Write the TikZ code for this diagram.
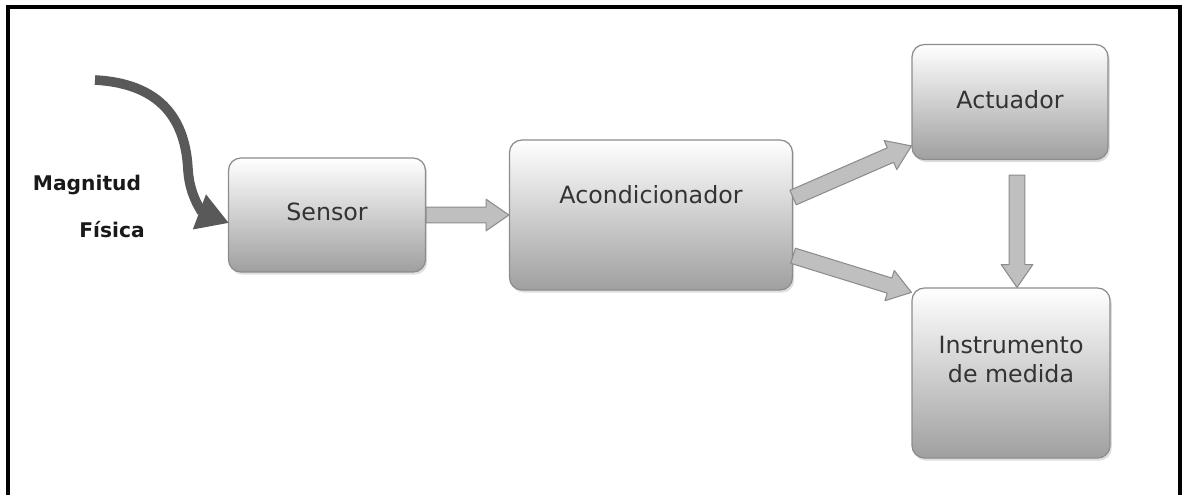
\documentclass[tikz,border=0pt]{standalone}
\usepackage{fontspec}
\setmainfont{DejaVu Sans}
\usepackage{tikz}
\usetikzlibrary{arrows.meta,calc,shadows}

\tikzset{
  bloque/.style={draw=gray!90,line width=.7pt,rounded corners=7pt,
    top color=white,bottom color=gray!75,
    drop shadow={opacity=.25,shadow xshift=1pt,shadow yshift=-1.5pt}},
  texto/.style={text=black!80,font=\fontsize{13.5}{16.5}\selectfont,align=center},
  rotulo/.style={text=black!90,font=\bfseries\fontsize{11.5}{13}\selectfont},
  flecha/.style={draw=gray!90,line width=.6pt,fill=gray!50,line join=round},
  curva/.style={draw=black!65,line width=5.5pt,-{Triangle[length=18pt,width=20pt]}}
}
%% flecha gruesa entre dos puntos
\newcommand{\flecha}[2]{%
  \coordinate (h) at ($(#2)!13pt!(#1)$);
  \draw[flecha] ($(#1)!4.5pt!90:(#2)$) -- ($(h)!4.5pt!90:(#2)$) -- ($(h)!9pt!90:(#2)$)
    -- (#2) -- ($(h)!9pt!-90:(#2)$) -- ($(h)!4.5pt!-90:(#2)$) -- ($(#1)!4.5pt!-90:(#2)$) -- cycle;}

\begin{document}
\begin{tikzpicture}[x=.02cm,y=-.02cm]
      \useasboundingbox (0,0) rectangle (1186,495);
      \draw[line width=1.8pt] (8,495) -- (8,7) -- (1180,7) -- (1180,495);
      %% bloques
      \node[bloque,minimum width=3.94cm,minimum height=2.28cm] (sensor) at (327,215) {};
      \node[bloque,minimum width=5.66cm,minimum height=3cm] (acond) at (651,215) {};
      \node[bloque,minimum width=3.92cm,minimum height=2.3cm] (actuador) at (1010,102) {};
      \node[bloque,minimum width=3.96cm,minimum height=3.4cm] (instr) at (1011,373) {};
      \node[texto] (tsensor) at (327,212) {Sensor};
      \node[texto] (tacond) at (651,195) {Acondicionador};
      \node[texto] (tactuador) at (1010,100) {Actuador};
      \node[texto] (tinstr) at (1011,360) {Instrumento\\de medida};
      \node[rotulo] (magnitud) at (87,185) {Magnitud};
      \node[rotulo] (fisica) at (112,230) {Física};
      %% entrada
      \coordinate (inicio) at (95,80);
      \coordinate (entrada) at (229,223);
      \draw[curva] (inicio) .. controls (170,84) and (186,130) .. (188,170)
        .. controls (190,200) and (205,214) .. (entrada);
      %% conexiones
      \coordinate (a1) at ($(actuador.south)+(7,15)$);
      \coordinate (a2) at ($(instr.north)+(6,0)$);
      \flecha{sensor.east}{acond.west}
      \flecha{acond.7}{actuador.204}
      \flecha{acond.-16}{instr.141}
      \flecha{a1}{a2}
    \end{tikzpicture}
\end{document}
